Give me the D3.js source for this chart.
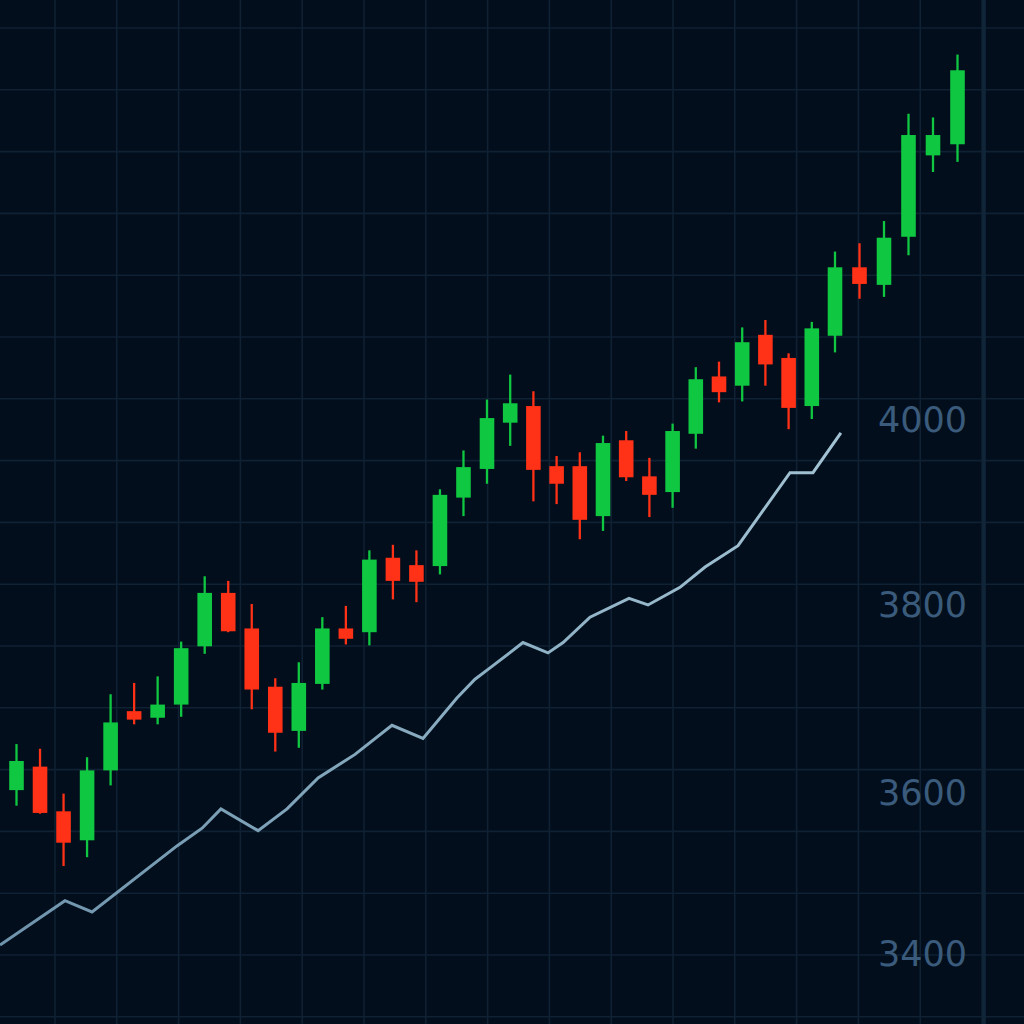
<!DOCTYPE html>
<html>
<head>
<meta charset="utf-8">
<script src="https://cdn.jsdelivr.net/npm/d3@7"></script>
<style>
  html, body { margin: 0; padding: 0; background: #020e1c; }
  svg { display: block; }
</style>
</head>
<body>
<div id="chart"></div>
<script>
// candles: open / high / low / close, one per session
const opens  = [3602, 3627, 3576, 3540, 3623, 3686, 3679, 3693, 3755, 3812, 3774, 3712, 3665, 3715, 3774, 3770, 3850, 3842, 3841, 3915, 3946,
                3996, 4014, 3949, 3949, 3895, 3977, 3938, 3921, 3984, 4046, 4036, 4091, 4066, 4014, 4090, 4164, 4145, 4197, 4285, 4297];
const highs  = [3651, 3646, 3598, 3637, 3704, 3716, 3723, 3760, 3830, 3825, 3800, 3721, 3738, 3786, 3798, 3858, 3864, 3858, 3924, 3966, 4021,
                4048, 4030, 3960, 3964, 3982, 3987, 3958, 3995, 4056, 4062, 4099, 4107, 4071, 4105, 4181, 4190, 4214, 4330, 4326, 4394];
const lows   = [3583, 3573, 3508, 3519, 3607, 3672, 3672, 3680, 3747, 3770, 3688, 3643, 3647, 3709, 3757, 3756, 3805, 3802, 3832, 3895, 3930,
                3971, 3911, 3908, 3870, 3879, 3933, 3894, 3904, 3968, 4018, 4019, 4036, 3989, 4000, 4072, 4130, 4132, 4177, 4267, 4278];
const closes = [3633, 3574, 3537, 3623, 3674, 3677, 3693, 3753, 3812, 3771, 3709, 3663, 3716, 3774, 3763, 3848, 3825, 3824, 3918, 3948, 4001,
                4017, 3945, 3930, 3891, 3974, 3937, 3918, 3987, 4043, 4029, 4083, 4059, 4012, 4098, 4164, 4146, 4196, 4307, 4307, 4377];

// slow average line, sampled at (fractional) session positions
const avgT      = [-0.7, 2.06, 3.21, 6.82, 7.89, 8.69, 10.27, 11.5, 12.82, 14.39, 15.96, 17.28, 18.72, 19.49, 20.13, 21.55, 22.63, 23.28,
                   24.44, 26.12, 26.94, 28.32, 29.4, 30.82, 33.06, 34.05, 35.24];
const avgValues = [3410, 3465, 3451, 3533, 3555, 3579, 3552, 3579, 3615, 3640, 3671, 3657, 3700, 3720, 3732, 3759, 3748, 3759,
                   3786, 3806, 3799, 3818, 3840, 3863, 3942, 3942, 3985];

const priceTicks = [3400, 3600, 3800, 4000];

const width = 1024, height = 1024;
const colors = {
  bg: '#020e1c',
  grid: '#0f2133',
  axis: '#12263a',
  up: '#10c741',
  down: '#ff3116',
  label: '#3a5b7b'
};

const candles = opens.map((o, i) => ({
  i, open: o, high: highs[i], low: lows[i], close: closes[i]
}));

// sessions are not spaced quite evenly in the picture
const x = d3.scaleLinear().domain([0, 20, 35, 40]).range([16.5, 487, 835, 957.5]);
// price axis is not evenly spaced either, so the scale is piecewise
const y = d3.scaleLinear().domain(priceTicks).range([953, 792, 604, 419]);

const bodyW = 14.6;

const svg = d3.select('#chart').append('svg')
  .attr('width', width)
  .attr('height', height);

const defs = svg.append('defs');
const grad = defs.append('linearGradient')
  .attr('id', 'avg-grad')
  .attr('gradientUnits', 'userSpaceOnUse')
  .attr('x1', 0).attr('x2', 850).attr('y1', 0).attr('y2', 0);
grad.append('stop').attr('offset', '0%').attr('stop-color', '#6e93ab');
grad.append('stop').attr('offset', '100%').attr('stop-color', '#a3c3d4');

svg.append('rect')
  .attr('width', width)
  .attr('height', height)
  .attr('fill', colors.bg);

// background grid, square cells
const gridStep = 61.8;
const gridG = svg.append('g').attr('class', 'grid');
gridG.selectAll('line.h')
  .data(d3.range(28, height, gridStep))
  .enter().append('line')
    .attr('class', 'h')
    .attr('x1', 0).attr('x2', width)
    .attr('y1', d => d).attr('y2', d => d)
    .attr('stroke', colors.grid)
    .attr('stroke-width', 1.6);
gridG.selectAll('line.v')
  .data(d3.range(55, 984, gridStep))
  .enter().append('line')
    .attr('class', 'v')
    .attr('y1', 0).attr('y2', height)
    .attr('x1', d => d).attr('x2', d => d)
    .attr('stroke', colors.grid)
    .attr('stroke-width', 1.6);
gridG.append('line')
  .attr('x1', 984).attr('x2', 984)
  .attr('y1', 0).attr('y2', height)
  .attr('stroke', colors.axis)
  .attr('stroke-width', 3.5);

// average line
const line = d3.line()
  .x((d, i) => x(avgT[i]))
  .y(d => y(d));
svg.append('path')
  .datum(avgValues)
  .attr('fill', 'none')
  .attr('stroke', 'url(#avg-grad)')
  .attr('stroke-width', 3)
  .attr('stroke-linejoin', 'miter')
  .attr('d', line);

// candles
const candleG = svg.append('g').attr('class', 'candles')
  .selectAll('g')
  .data(candles)
  .enter().append('g')
    .attr('fill', d => d.close >= d.open ? colors.up : colors.down)
    .attr('stroke', d => d.close >= d.open ? colors.up : colors.down);

candleG.append('line')
  .attr('x1', d => x(d.i)).attr('x2', d => x(d.i))
  .attr('y1', d => y(d.high)).attr('y2', d => y(d.low))
  .attr('stroke-width', 2.3);

candleG.append('rect')
  .attr('x', d => x(d.i) - bodyW / 2)
  .attr('width', bodyW)
  .attr('y', d => y(Math.max(d.open, d.close)))
  .attr('height', d => Math.max(1, y(Math.min(d.open, d.close)) - y(Math.max(d.open, d.close))))
  .attr('stroke', 'none');

// price labels
const axis = d3.axisRight(y)
  .tickValues(priceTicks)
  .tickSize(0)
  .tickFormat(d3.format('d'));
const axisG = svg.append('g')
  .attr('transform', 'translate(967,0)')
  .call(axis);
axisG.select('.domain').remove();
axisG.selectAll('text')
  .attr('x', 0)
  .attr('dy', '0.36em')
  .attr('text-anchor', 'end')
  .attr('fill', colors.label)
  .style('font-family', '"DejaVu Sans", sans-serif')
  .style('font-size', '35px');
</script>
</body>
</html>
